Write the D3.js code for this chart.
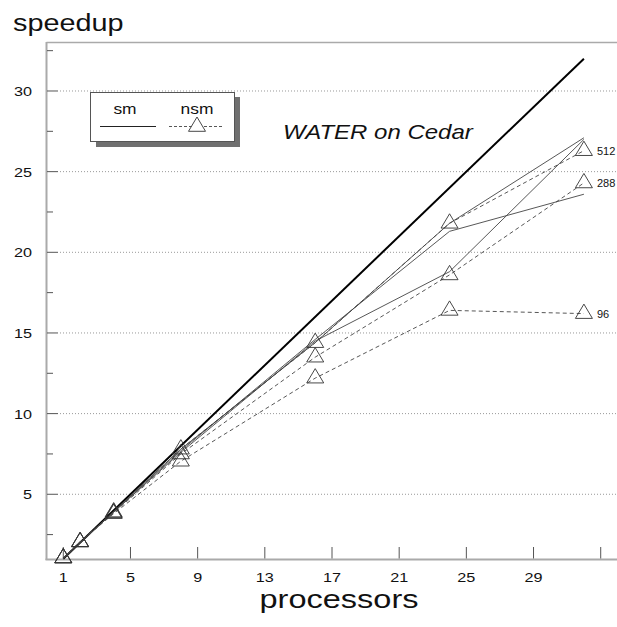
<!DOCTYPE html>
<html><head><meta charset="utf-8">
<script src="https://cdn.jsdelivr.net/npm/d3@7"></script>
<style>html,body{margin:0;padding:0;background:#fff}svg{display:block}text{font-family:"Liberation Sans",Arial,Helvetica,sans-serif;fill:#111}</style>
</head><body>
<script>
const procs = [1, 2, 4, 8, 16, 24, 32];
const smA = [1, 2.0, 3.9, 7.7, 14.6, 21.3, 23.6];
const smB = [1, 2.0, 3.9, 7.6, 14.5, 18.8, 27.0];
const smC = [1, 2.0, 3.95, 7.8, 14.4, 21.8, 27.1];
const nsm512 = [1.05, 2.05, 3.9, 7.8, 14.4, 21.8, 26.3];
const nsm288 = [1.05, 2.05, 3.85, 7.5, 13.5, 18.6, 24.3];
const nsm96  = [1.05, 2.05, 3.8, 7.05, 12.2, 16.4, 16.2];
const nsmLabels = ["512", "288", "96"];
const ideal = [[1, 1], [32, 32]];
const xTicks = [1, 5, 9, 13, 17, 21, 25, 29, 33];
const xTickLabels = ["1", "5", "9", "13", "17", "21", "25", "29", ""];
const yMajor = [5, 10, 15, 20, 25, 30];
const yMinor = [2.5, 7.5, 12.5, 17.5, 22.5, 27.5, 32.5];

const W = 617, H = 627, SX = 1.2;
const svg = d3.select("body").append("svg").attr("width", W).attr("height", H);
const x = d3.scaleLinear().domain([0, 34]).range([46.5, 617.5]);
const y = d3.scaleLinear().domain([1, 33]).range([558.8, 42.6]);

function txt(px, py, s, size, anchor, style, sx) {
  const k = sx === undefined ? SX : sx;
  const t = svg.append("text").attr("transform", `translate(${px},${py}) scale(${k},1)`)
    .attr("font-size", size).attr("text-anchor", anchor || "start").text(s);
  if (style) t.attr("font-style", style);
  return t;
}

// grid
svg.append("g").selectAll("line").data(yMajor).join("line")
  .attr("x1", 60).attr("x2", W).attr("y1", d => y(d)).attr("y2", d => y(d))
  .attr("stroke", "#999").attr("stroke-width", 1).attr("stroke-dasharray", "1,2");

// frame
svg.append("line").attr("x1", 46.5).attr("x2", W).attr("y1", 42.6).attr("y2", 42.6).attr("stroke", "#aaa").attr("stroke-width", 1.5);
svg.append("line").attr("x1", 46.5).attr("x2", 46.5).attr("y1", 42).attr("y2", 560).attr("stroke", "#aaa").attr("stroke-width", 2);
svg.append("line").attr("x1", 45.5).attr("x2", W).attr("y1", 559.5).attr("y2", 559.5).attr("stroke", "#aaa").attr("stroke-width", 2);

// y ticks
svg.append("g").selectAll("line").data(yMajor).join("line")
  .attr("x1", 47).attr("x2", 58).attr("y1", d => y(d)).attr("y2", d => y(d)).attr("stroke", "#555").attr("stroke-width", 1);
svg.append("g").selectAll("line").data(yMinor).join("line")
  .attr("x1", 47).attr("x2", 53).attr("y1", d => y(d)).attr("y2", d => y(d)).attr("stroke", "#555").attr("stroke-width", 1);
yMajor.forEach(v => txt(32, y(v) + 5, String(v), 13.5, "end"));

// x ticks
svg.append("g").selectAll("line").data(xTicks).join("line")
  .attr("x1", d => x(d)).attr("x2", d => x(d)).attr("y1", 547).attr("y2", 558.5).attr("stroke", "#555").attr("stroke-width", 1);
xTicks.forEach((v, i) => { if (xTickLabels[i]) txt(x(v), 582, xTickLabels[i], 13.5, "middle"); });

// axis titles
txt(13, 31, "speedup", 24, "start");
txt(339, 608, "processors", 25, "middle", null, 1.3);
txt(283, 139, "WATER on Cedar", 20, "start", "italic");

const line = d3.line().x((d, i) => x(procs[i])).y(d => y(d));

// ideal
svg.append("path").datum(ideal).attr("d", d3.line().x(d => x(d[0])).y(d => y(d[1])))
  .attr("fill", "none").attr("stroke", "#000").attr("stroke-width", 2);

// sm lines
[smA, smB, smC].forEach(s => svg.append("path").datum(s).attr("d", line)
  .attr("fill", "none").attr("stroke", "#444").attr("stroke-width", 0.9));

// nsm lines
const tri = (cx, cy) => `M${cx},${cy - 9.5}L${cx + 8.5},${cy + 4.8}L${cx - 8.5},${cy + 4.8}Z`;
[nsm512, nsm288, nsm96].forEach((s, k) => {
  svg.append("path").datum(s).attr("d", line)
    .attr("fill", "none").attr("stroke", "#444").attr("stroke-width", 0.9).attr("stroke-dasharray", "4,3");
  svg.append("g").selectAll("path").data(s).join("path")
    .attr("d", (d, i) => tri(x(procs[i]), y(d)))
    .attr("fill", "none").attr("stroke", "#333").attr("stroke-width", 0.9);
  txt(x(procs[procs.length - 1]) + 13, y(s[s.length - 1]) + 4, nsmLabels[k], 11, "start", null, 1);
});

// legend
const lg = svg.append("g");
lg.append("rect").attr("x", 96).attr("y", 97).attr("width", 144).attr("height", 50).attr("fill", "#707070");
lg.append("rect").attr("x", 90.5).attr("y", 92.5).attr("width", 144).attr("height", 49).attr("fill", "#fff").attr("stroke", "#555").attr("stroke-width", 1);
txt(125, 114, "sm", 14.5, "middle");
txt(197, 114, "nsm", 14.5, "middle");
lg.append("line").attr("x1", 100).attr("x2", 156).attr("y1", 126.5).attr("y2", 126.5).attr("stroke", "#222").attr("stroke-width", 1);
lg.append("line").attr("x1", 169).attr("x2", 223).attr("y1", 126.5).attr("y2", 126.5).attr("stroke", "#444").attr("stroke-width", 0.9).attr("stroke-dasharray", "3,2");
lg.append("path").attr("d", tri(197, 126.5)).attr("fill", "#fff").attr("stroke", "#333").attr("stroke-width", 0.9);
</script>
</body></html>
